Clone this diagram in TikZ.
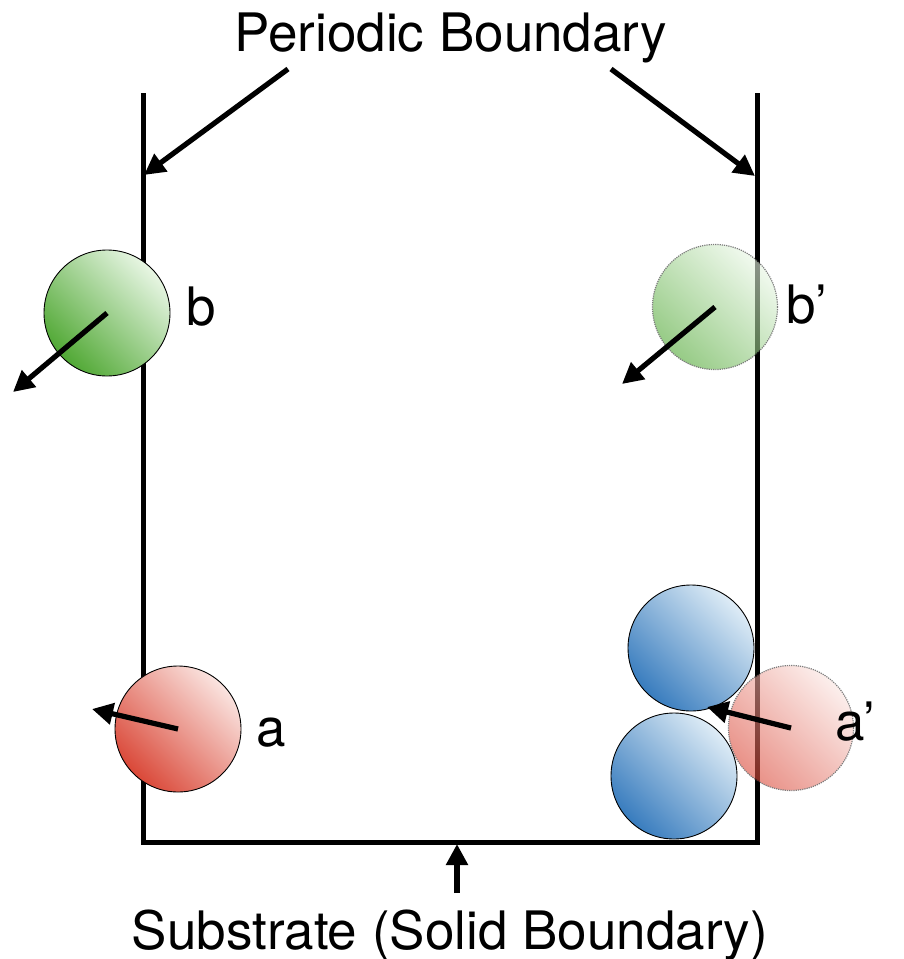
\documentclass[tikz,border=0pt]{standalone}
\usepackage{fontspec}
\setmainfont{TeX Gyre Heros}
\usetikzlibrary{arrows.meta}
\definecolor{gdark}{RGB}{80,168,52}
\definecolor{glight}{RGB}{232,246,228}
\definecolor{rdark}{RGB}{218,72,56}
\definecolor{rlight}{RGB}{250,228,224}
\definecolor{bdark}{RGB}{56,124,190}
\definecolor{blight}{RGB}{222,236,246}
\tikzset{
  wall/.style={line width=5pt, line cap=rect},
  ptr/.style={line width=5.2pt, -{Triangle[length=21pt,width=21pt]}},
  ball/.style={circle, inner sep=0pt, minimum size=#1, draw=black, line width=0.9pt},
  ghost/.style={circle, inner sep=0pt, minimum size=#1, draw=black!85, line width=1.2pt, densely dotted},
  shadeg/.style={top color=glight, bottom color=gdark, shading angle=-45},
  shader/.style={top color=rlight, bottom color=rdark, shading angle=-45},
  shadeb/.style={top color=blight, bottom color=bdark, shading angle=-45},
  lbl/.style={inner sep=0pt, anchor=base west, font=\fontsize{53}{60}\selectfont},
  ttl/.style={inner sep=0pt, anchor=base, font=\fontsize{53}{60}\selectfont}
}
\begin{document}
\begin{tikzpicture}[x=1pt,y=-1pt]
\useasboundingbox (0,0) rectangle (903,959);
% walls
\coordinate (lt) at (143,95);
\coordinate (lb) at (143,842);
\coordinate (rb) at (757,842);
\coordinate (rt) at (757,95);
\draw[wall] (lt) -- (lb) -- (rb) -- (rt);
% titles
\node[ttl] (pb) at (451,51) {Periodic Boundary};
\node[ttl] (sb) at (450,949) {Substrate (Solid Boundary)};
% pointer arrows
\coordinate (pbl) at (288,69);
\coordinate (pbr) at (611,69);
\coordinate (lwt) at (144,175);
\coordinate (rwt) at (755,176);
\coordinate (sbt) at (457,893);
\coordinate (sbh) at (457,844);
\draw[ptr] (pbl) -- (lwt);
\draw[ptr] (pbr) -- (rwt);
\draw[ptr] (sbt) -- (sbh);
% solid balls
\node[ball=126pt, shadeg] (b) at (107,313) {};
\node[ball=126pt, shader] (a) at (178,729) {};
\node[ball=126pt, shadeb] (u) at (691,648) {};
\node[ball=126pt, shadeb] (l) at (674,776) {};
% ghost balls
\begin{scope}[transparency group, opacity=0.6]
\node[ghost=125pt, shadeg] (bp) at (715,307) {};
\end{scope}
\begin{scope}[transparency group, opacity=0.6]
\node[ghost=125pt, shader] (ap) at (791,728) {};
\end{scope}
% velocity arrows
\coordinate (bt) at (13,392);
\coordinate (bpt) at (622,384);
\coordinate (at) at (92,709);
\coordinate (apt) at (707,707);
\draw[ptr] (b.center) -- (bt);
\draw[ptr] (bp.center) -- (bpt);
\draw[ptr] (a.center) -- (at);
\draw[ptr] (ap.center) -- (apt);
% labels
\node[lbl] (lb1) at (186,325) {b};
\node[lbl] (lb2) at (786,323) {b’};
\node[lbl] (la1) at (256,746) {a};
\node[lbl] (la2) at (835,740) {a’};
\end{tikzpicture}
\end{document}
